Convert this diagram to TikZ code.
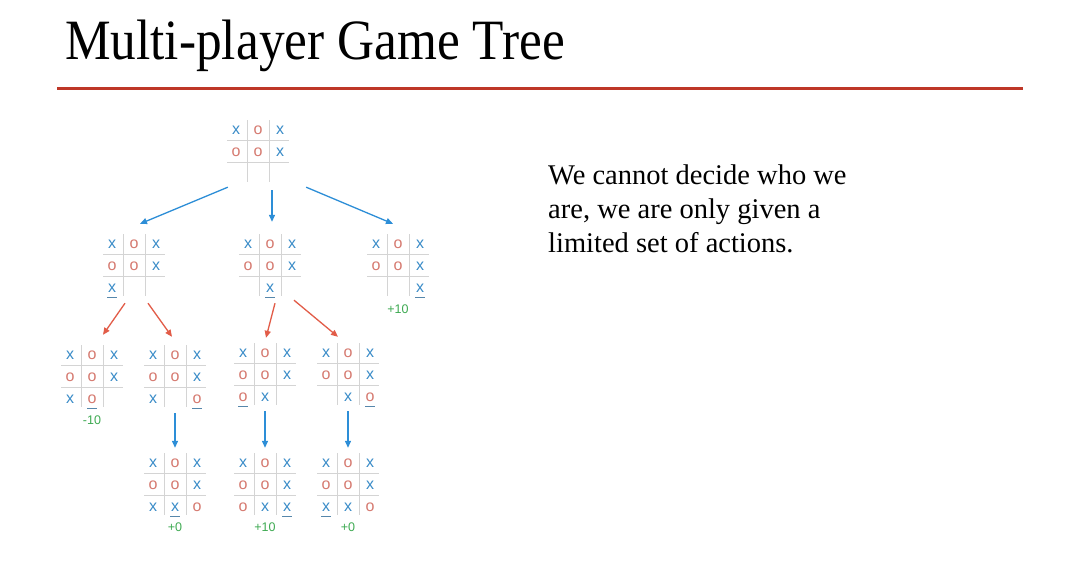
\documentclass[tikz,border=0pt]{standalone}
\usepackage{fontspec}
\usepackage{graphicx}
\setmainfont{Liberation Serif}
\newfontfamily\markfont{Liberation Sans}
\usetikzlibrary{arrows.meta,calc}
\definecolor{xblue}{RGB}{58,140,200}
\definecolor{ored}{RGB}{214,122,112}
\definecolor{arrblue}{RGB}{45,142,215}
\definecolor{arrred}{RGB}{226,92,72}
\definecolor{gridgray}{RGB}{212,212,212}
\definecolor{scoregreen}{RGB}{62,170,82}
\definecolor{rulered}{RGB}{190,55,40}
\tikzset{
  boardbox/.style={minimum size=62pt, inner sep=0pt, draw=none},
  gridline/.style={draw=gridgray, line width=0.8pt},
  xmark/.style={font=\markfont\fontsize{16}{16}\selectfont, text=xblue, inner sep=0pt},
  omark/.style={font=\markfont\fontsize{16}{16}\selectfont, text=ored, inner sep=0pt},
  uline/.style={draw=xblue!60!gray, line width=0.6pt},
  score/.style={font=\markfont\fontsize{12.5}{12.5}\selectfont, text=scoregreen, inner sep=0pt},
  barrow/.style={draw=arrblue, line width=1.3pt, -{Triangle[length=7pt,width=6pt]}},
  rarrow/.style={draw=arrred, line width=1.3pt, -{Triangle[length=7pt,width=6pt]}},
  bodytext/.style={font=\fontsize{28.5}{34}\selectfont, anchor=base west, inner sep=0pt}
}
\newcommand{\tttx}[3]{\node[xmark] (#1) at (#2,#3+1.5) {x};}
\newcommand{\ttto}[3]{\node[omark] (#1) at (#2,#3+1.5) {o};}
\newcommand{\tttX}[3]{\node[xmark] (#1) at (#2,#3+1.5) {x};\draw[uline] (#2-5,#3+10) -- (#2+5,#3+10);}
\newcommand{\tttO}[3]{\node[omark] (#1) at (#2,#3+1.5) {o};\draw[uline] (#2-5,#3+10) -- (#2+5,#3+10);}
\newcommand{\ttte}[3]{}
\newcommand{\tttboard}[3]{%
  \node[boardbox] (#1) at (#2) {};
  \begin{scope}[shift={(#1.center)}]
    \draw[gridline] (-11,-31) -- (-11,31) (11,-31) -- (11,31) (-31,-11) -- (31,-11) (-31,11) -- (31,11);
    \foreach \m [count=\i from 0] in {#3} {
      \pgfmathtruncatemacro{\cc}{mod(\i,3)}
      \pgfmathtruncatemacro{\rr}{div(\i,3)}
      \csname ttt\m\endcsname{#1-\i}{\cc*22-22}{\rr*22-22}
    }
  \end{scope}}
\begin{document}
\begin{tikzpicture}[x=1pt,y=-1pt]
\useasboundingbox (0,0) rectangle (1080,565);
\fill[white] (0,0) rectangle (1080,565);
% title
\node[anchor=base west, inner sep=0pt] (title) at (65,59) {\fontsize{57}{57}\selectfont\scalebox{0.9}[1]{Multi-player Game Tree}};
\coordinate (ruleL) at (57,88);
\coordinate (ruleR) at (1023,88);
\draw[rulered, line width=3pt] (ruleL) -- (ruleR);
% text
\node[bodytext] (t1) at (548,184) {We cannot decide who we};
\node[bodytext] (t2) at (548,218) {are, we are only given a};
\node[bodytext] (t3) at (548,252) {limited set of actions.};
% boards
\tttboard{top}{258,151}{x,o,x,o,o,x,e,e,e}
\tttboard{L2a}{134,265}{x,o,x,o,o,x,X,e,e}
\tttboard{L2b}{270,265}{x,o,x,o,o,x,e,X,e}
\tttboard{L2c}{398,265}{x,o,x,o,o,x,e,e,X}
\tttboard{L3a}{92,376}{x,o,x,o,o,x,x,O,e}
\tttboard{L3b}{175,376}{x,o,x,o,o,x,x,e,O}
\tttboard{L3c}{265,374}{x,o,x,o,o,x,O,x,e}
\tttboard{L3d}{348,374}{x,o,x,o,o,x,e,x,O}
\tttboard{L4a}{175,484}{x,o,x,o,o,x,x,X,o}
\tttboard{L4b}{265,484}{x,o,x,o,o,x,o,x,X}
\tttboard{L4c}{348,484}{x,o,x,o,o,x,X,x,o}
% scores
\node[score] (s1) at ([yshift=-13pt]L2c.south) {+10};
\node[score] (s2) at ([yshift=-13pt]L3a.south) {-10};
\node[score] (s3) at ([yshift=-12pt]L4a.south) {+0};
\node[score] (s4) at ([yshift=-12pt]L4b.south) {+10};
\node[score] (s5) at ([yshift=-12pt]L4c.south) {+0};
% arrows level 1 -> 2
\draw[barrow] ([xshift=1pt,yshift=-5pt]top.south west) -- ([xshift=6pt,yshift=10pt]L2a.north);
\draw[barrow] ([xshift=14pt,yshift=-8pt]top.south) -- ([xshift=2pt,yshift=12pt]L2b.north);
\draw[barrow] ([xshift=17pt,yshift=-5pt]top.south east) -- ([xshift=-5pt,yshift=10pt]L2c.north);
% arrows level 2 -> 3
\draw[rarrow] ([xshift=-9pt,yshift=-7pt]L2a.south) -- ([xshift=11pt,yshift=10pt]L3a.north);
\draw[rarrow] ([xshift=14pt,yshift=-7pt]L2a.south) -- ([xshift=-3pt,yshift=8pt]L3b.north);
\draw[rarrow] ([xshift=5pt,yshift=-7pt]L2b.south) -- ([xshift=1pt,yshift=5pt]L3c.north);
\draw[rarrow] ([xshift=24pt,yshift=-4pt]L2b.south) -- ([xshift=-10pt,yshift=6pt]L3d.north);
% arrows level 3 -> 4
\draw[barrow] ([yshift=-6pt]L3b.south) -- ([yshift=5pt]L4a.north);
\draw[barrow] ([yshift=-6pt]L3c.south) -- ([yshift=5pt]L4b.north);
\draw[barrow] ([yshift=-6pt]L3d.south) -- ([yshift=5pt]L4c.north);
\end{tikzpicture}
\end{document}
